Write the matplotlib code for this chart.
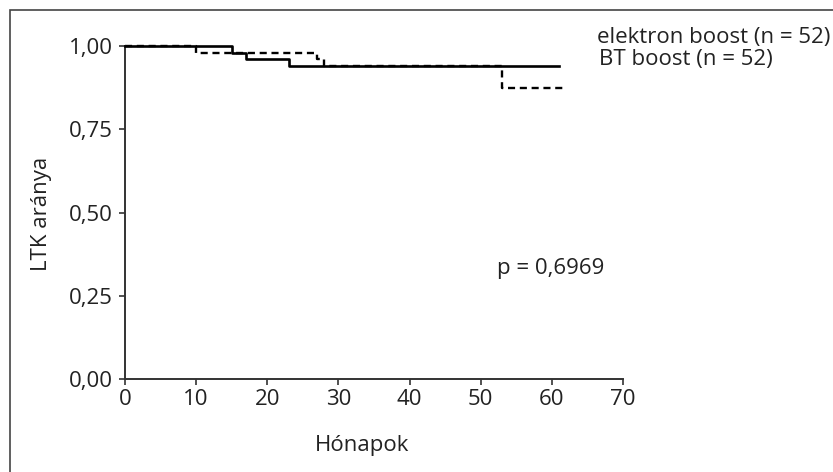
import matplotlib
matplotlib.use("Agg")
import matplotlib.pyplot as plt
from matplotlib.patches import Rectangle

plt.rcParams['font.family'] = ['Open Sans', 'DejaVu Sans']

# Kaplan-Meier lépcsők (olvasott értékek)
elektron_t = [0, 15, 17, 23, 61]
elektron_s = [1.00, 0.98, 0.96, 0.94, 0.94]
bt_t = [0, 10, 27, 28, 53, 62]
bt_s = [1.00, 0.98, 0.96, 0.94, 0.875, 0.875]

labels = ["elektron boost (n = 52)", "BT boost (n = 52)"]
p_text = "p = 0,6969"
xticks = [0, 10, 20, 30, 40, 50, 60, 70]
yticks = [0, 0.25, 0.5, 0.75, 1.0]
ytick_labels = ["0,00", "0,25", "0,50", "0,75", "1,00"]

fs = 16
tc = '#222222'

fig = plt.figure(figsize=(8.33, 4.72), dpi=100)
ax = fig.add_axes([0.150, 0.197, 0.598, 0.7055])

ax.step(elektron_t, elektron_s, where='post', color='black', lw=1.9, clip_on=False, zorder=3)
ax.step(bt_t, bt_s, where='post', color='black', lw=1.7, ls=(0, (3, 2)), clip_on=False, zorder=2)

ax.set_xlim(0, 70)
ax.set_ylim(0, 1)
ax.set_xticks(xticks)
ax.set_yticks(yticks)
ax.set_yticklabels(ytick_labels)
ax.tick_params(direction='out', length=4.5, width=1.2, labelsize=fs, color='#333333', labelcolor=tc)
ax.tick_params(axis='y', pad=4.5)
ax.tick_params(axis='x', pad=2.5)
for s in ['top', 'right']:
    ax.spines[s].set_visible(False)
for s in ['left', 'bottom']:
    ax.spines[s].set_linewidth(1.4)
    ax.spines[s].set_color('#333333')

fig.text(362 / 833, 1 - 445 / 472, "Hónapok", fontsize=fs, color=tc, ha='center', va='center')
fig.text(42 / 833, 1 - 214 / 472, "LTK aránya", fontsize=fs, color=tc, ha='center', va='center', rotation=90)

ax.text(66.3, 1.027, labels[0], fontsize=fs, va='center', ha='left', color=tc, clip_on=False)
ax.text(66.6, 0.961, labels[1], fontsize=fs, va='center', ha='left', color=tc, clip_on=False)
ax.text(52.3, 0.333, p_text, fontsize=fs, va='center', ha='left', color=tc)

# keret
fig.patches.append(Rectangle((10 / 833, -0.1), 1.2, 1 - 10 / 472 + 0.1, transform=fig.transFigure,
                             fill=False, lw=1.2, edgecolor='#444444'))

fig.savefig("out.png", dpi=100)
